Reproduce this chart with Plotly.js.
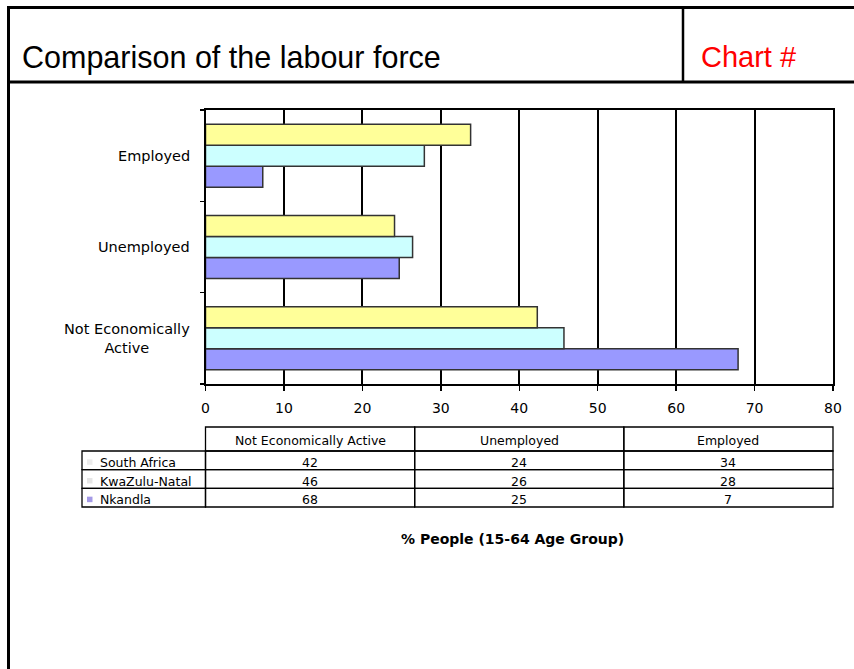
<!DOCTYPE html>
<html>
<head>
<meta charset="utf-8">
<script src="https://cdn.plot.ly/plotly-3.0.1.min.js"></script>
<style>
  html, body { margin: 0; padding: 0; background: #ffffff; }
  #chart { width: 854px; height: 669px; }
</style>
</head>
<body>
<div id="chart"></div>
<script>
// ---- data ----
const categories = ['Not Economically Active', 'Unemployed', 'Employed'];
const categoryLabels = ['Not Economically<br>Active', 'Unemployed', 'Employed'];
const seriesNames = ['South Africa', 'KwaZulu-Natal', 'Nkandla'];
const southAfrica = [42.3, 24.1, 33.8];
const kwaZuluNatal = [45.7, 26.4, 27.9];
const nkandla = [67.9, 24.7, 7.3];
const xTickValues = [0, 10, 20, 30, 40, 50, 60, 70, 80];
const chartTitle = 'Comparison of the labour force';
const chartNumber = 'Chart #';
const axisTitle = '% People (15-64 Age Group)';

// ---- styling ----
const W = 854, H = 669;
const px = x => x / W;
const py = y => 1 - y / H;
const seriesColors = ['#FFFF99', '#CCFFFF', '#9999FF'];
const keyColors = ['#ececec', '#e6e6e6', '#a49ae6'];
const smallFont = 'DejaVu Sans, Liberation Sans, sans-serif';

const seriesValues = [southAfrica, kwaZuluNatal, nkandla];

// bar traces: Plotly puts the first trace of a group at the bottom, so add in reverse
const traces = [];
for (let i = seriesNames.length - 1; i >= 0; i--) {
  traces.push({
    type: 'bar',
    orientation: 'h',
    name: seriesNames[i],
    y: categories,
    x: seriesValues[i],
    marker: { color: seriesColors[i], line: { color: '#333333', width: 1.5 } },
    hoverinfo: 'x+name'
  });
}

const annotations = [];
const shapes = [];

// category labels (centre-aligned multi-line, placed on the category axis)
categories.forEach((c, i) => annotations.push({
  xref: 'paper', yref: 'y',
  x: px(192), y: c,
  xanchor: 'right', yanchor: 'middle',
  align: 'center',
  text: categoryLabels[i],
  showarrow: false,
  font: { family: smallFont, size: 14.5, color: '#000000' }
}));

annotations.push({
  xref: 'paper', yref: 'paper',
  x: px(699), y: py(57),
  xanchor: 'left', yanchor: 'middle',
  text: chartNumber, showarrow: false,
  font: { family: 'Liberation Sans, Arial, sans-serif', size: 29, color: '#ff0000' }
});
annotations.push({
  xref: 'paper', yref: 'paper',
  x: px(512), y: py(539),
  xanchor: 'center', yanchor: 'middle',
  text: '<b>' + axisTitle + '</b>', showarrow: false,
  font: { family: smallFont, size: 14, color: '#000000' }
});

// ---- data table under the plot, built from the arrays ----
const tblLeft = 82, colStart = 205.5, tblRight = 833;
const headTop = 427, headBottom = 451, tblBottom = 507;
const colW = (tblRight - colStart) / categories.length;
const rowH = (tblBottom - headBottom) / seriesNames.length;
const tableLine = { color: '#000000', width: 1.3 };

categories.forEach((c, ci) => {
  const x0 = colStart + ci * colW, x1 = x0 + colW;
  shapes.push({ type: 'rect', xref: 'paper', yref: 'paper',
    x0: px(x0), x1: px(x1), y0: py(headBottom), y1: py(headTop), line: tableLine });
  annotations.push({ xref: 'paper', yref: 'paper', x: px((x0 + x1) / 2), y: py((headTop + headBottom) / 2 + 1),
    xanchor: 'center', yanchor: 'middle', text: c, showarrow: false,
    font: { family: smallFont, size: 12.5, color: '#000000' } });
});
seriesNames.forEach((name, ri) => {
  const y0 = headBottom + ri * rowH, y1 = y0 + rowH, yc = (y0 + y1) / 2 + 2;
  shapes.push({ type: 'rect', xref: 'paper', yref: 'paper',
    x0: px(tblLeft), x1: px(colStart), y0: py(y1), y1: py(y0), line: tableLine });
  shapes.push({ type: 'rect', xref: 'paper', yref: 'paper',
    x0: px(87), x1: px(92.5), y0: py(yc + 2.5), y1: py(yc - 3),
    line: { width: 0 }, fillcolor: keyColors[ri] });
  annotations.push({ xref: 'paper', yref: 'paper', x: px(98), y: py(yc),
    xanchor: 'left', yanchor: 'middle', text: name, showarrow: false,
    font: { family: smallFont, size: 12.5, color: '#000000' } });
  seriesValues[ri].forEach((v, ci) => {
    const x0 = colStart + ci * colW, x1 = x0 + colW;
    shapes.push({ type: 'rect', xref: 'paper', yref: 'paper',
      x0: px(x0), x1: px(x1), y0: py(y1), y1: py(y0), line: tableLine });
    annotations.push({ xref: 'paper', yref: 'paper', x: px((x0 + x1) / 2), y: py(yc),
      xanchor: 'center', yanchor: 'middle', text: String(Math.round(v)), showarrow: false,
      font: { family: smallFont, size: 12.5, color: '#000000' } });
  });
});

// ---- page frame ----
const frameLine = { color: '#000000', width: 3 };
shapes.push(
  { type: 'line', xref: 'paper', yref: 'paper', x0: px(8.5), x1: px(8.5), y0: py(6), y1: py(669), line: frameLine },
  { type: 'line', xref: 'paper', yref: 'paper', x0: px(7), x1: px(854), y0: py(7.5), y1: py(7.5), line: frameLine },
  { type: 'line', xref: 'paper', yref: 'paper', x0: px(7), x1: px(854), y0: py(82), y1: py(82), line: frameLine },
  { type: 'line', xref: 'paper', yref: 'paper', x0: px(683), x1: px(683), y0: py(7.5), y1: py(82), line: { color: '#000000', width: 2.5 } }
);

const layout = {
  width: W, height: H,
  autosize: false,
  margin: { l: 0, r: 0, t: 0, b: 0 },
  paper_bgcolor: '#ffffff',
  plot_bgcolor: '#ffffff',
  showlegend: false,
  barmode: 'group',
  bargap: 0.31,
  bargroupgap: 0,
  title: {
    text: chartTitle,
    x: px(22), xanchor: 'left', xref: 'paper',
    y: py(57), yanchor: 'middle', yref: 'paper',
    font: { family: 'Liberation Sans, Arial, sans-serif', size: 30.5, color: '#000000' }
  },
  xaxis: {
    domain: [px(205.5), px(833)],
    range: [0, 80],
    tickvals: xTickValues,
    ticktext: xTickValues.map(String),
    ticks: 'outside', ticklen: 5, tickwidth: 1.5, tickcolor: '#000000',
    ticklabelstandoff: 5,
    showgrid: true, gridcolor: '#000000', gridwidth: 2,
    zeroline: false,
    showline: true, linecolor: '#000000', linewidth: 2, mirror: true,
    tickfont: { family: smallFont, size: 14, color: '#000000' },
    fixedrange: true
  },
  yaxis: {
    domain: [py(384), py(110)],
    type: 'category',
    categoryorder: 'array',
    categoryarray: categories,
    range: [-0.5, 2.5],
    showticklabels: false,
    ticks: 'outside', tickson: 'boundaries', ticklen: 4, tickwidth: 1.5, tickcolor: '#000000',
    showgrid: false,
    zeroline: false,
    showline: true, linecolor: '#000000', linewidth: 2, mirror: true,
    fixedrange: true
  },
  annotations: annotations,
  shapes: shapes
};

Plotly.newPlot('chart', traces, layout, { staticPlot: true, displayModeBar: false });
</script>
</body>
</html>
